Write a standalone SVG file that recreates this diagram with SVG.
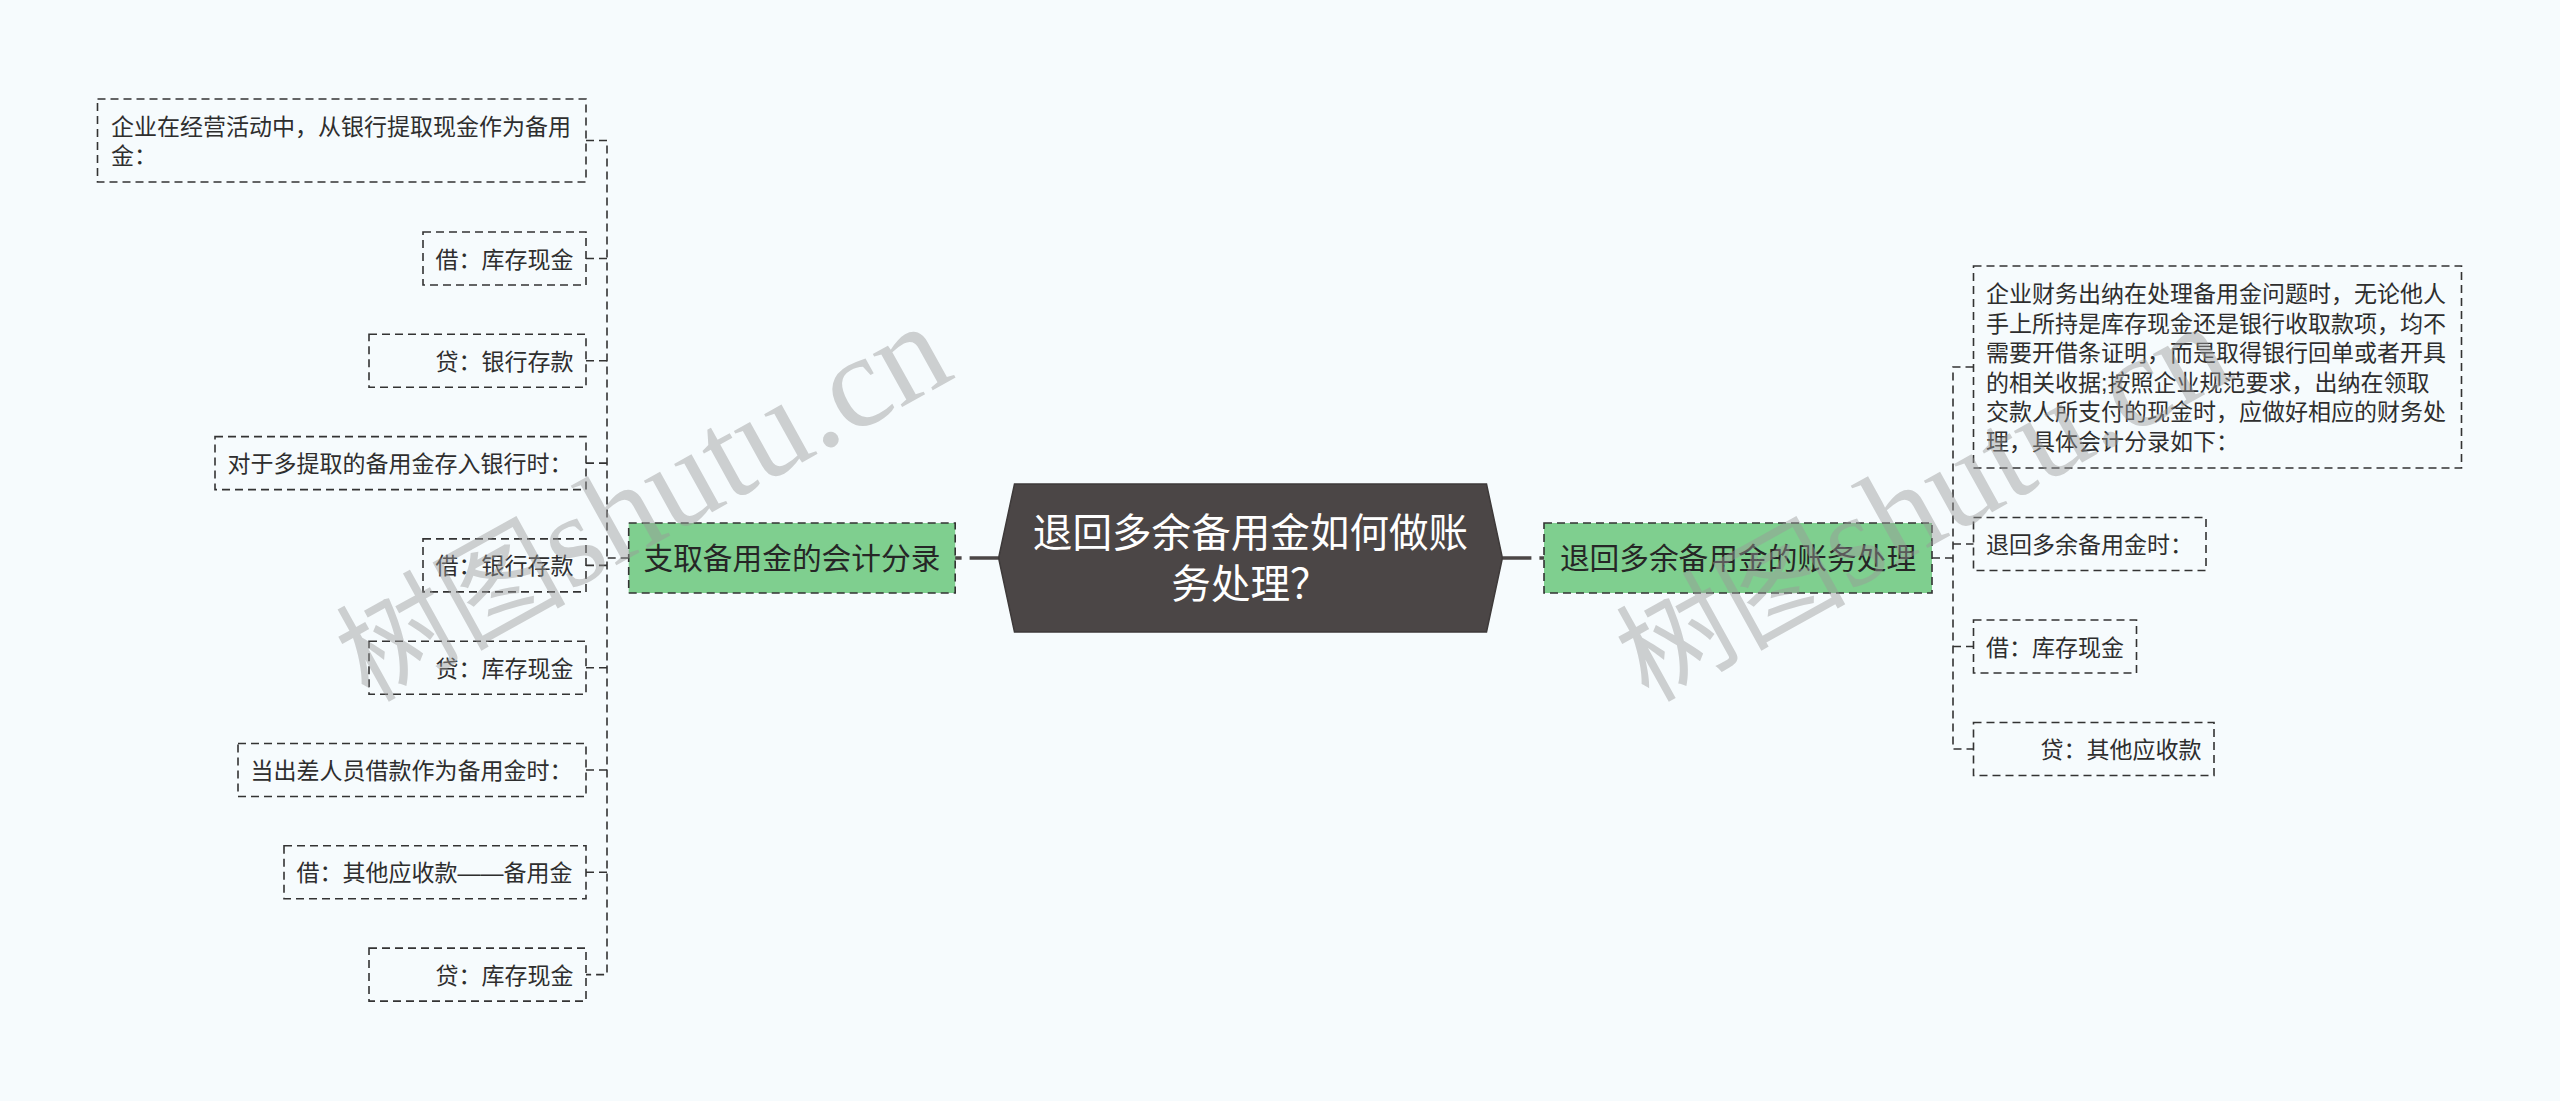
<svg xmlns="http://www.w3.org/2000/svg" width="2560" height="1101" viewBox="0 0 2560 1101">
<style>
.bg{fill:#f6fbfd}
.leaf{fill:none;stroke:#333;stroke-width:1.6;stroke-dasharray:8 5}
.leaft{font-family:"Liberation Sans","Noto Sans CJK SC",sans-serif;font-size:23px;fill:#2e2e2e}
.green{fill:#7fcf8f;stroke:#333;stroke-width:1.6;stroke-dasharray:8 5}
.greent{font-family:"Liberation Sans","Noto Sans CJK SC",sans-serif;font-size:29.7px;fill:#262626;text-anchor:middle}
.root{fill:#4b4646;stroke:#3e3a3a;stroke-width:1.5}
.roott{font-family:"Liberation Sans","Noto Sans CJK SC",sans-serif;font-size:39.6px;fill:#ffffff;text-anchor:middle}
.conn{fill:none;stroke:#333;stroke-width:1.6;stroke-dasharray:8 5}
.thick{fill:none;stroke:#4b4646;stroke-width:3.5;stroke-dasharray:29 8}
.wm{font-family:"Liberation Serif","Noto Sans CJK SC",serif;font-size:115px;fill:#9a9a9a;opacity:0.45}
.wml{font-size:132px}
.end{text-anchor:end}
</style>
<rect class="bg" x="0" y="0" width="2560" height="1101"/>

<g id="connectors">
  <path class="thick" d="M998.6 558 H955"/>
  <path class="thick" d="M1502.4 558 H1544"/>
  <path class="conn" d="M628.7 558 H607"/>
  <path class="conn" d="M586 140.5 H607 V974.6 H586"/>
  <path class="conn" d="M607 258.5 H586"/>
  <path class="conn" d="M607 360.8 H586"/>
  <path class="conn" d="M607 463.1 H586"/>
  <path class="conn" d="M607 565.4 H586"/>
  <path class="conn" d="M607 667.7 H586"/>
  <path class="conn" d="M607 770 H586"/>
  <path class="conn" d="M607 872.3 H586"/>
  <path class="conn" d="M1932 558 H1953"/>
  <path class="conn" d="M1973.5 367 H1953 V749 H1973.5"/>
  <path class="conn" d="M1953 544 H1973.5"/>
  <path class="conn" d="M1953 646.5 H1973.5"/>
</g>

<g id="root">
  <polygon class="root" points="1014.5,484 1486.5,484 1502.4,558 1486.5,632 1014.5,632 998.6,558"/>
  <text class="roott" x="1250.5" y="547">退回多余备用金如何做账</text>
  <text class="roott" x="1250.5" y="598">务处理？</text>
</g>

<g id="branch-left">
  <rect class="green" x="628.7" y="523" width="326.5" height="70"/>
  <text class="greent" x="791.9" y="569">支取备用金的会计分录</text>
</g>
<g id="branch-right">
  <rect class="green" x="1544" y="523" width="388" height="70"/>
  <text class="greent" x="1738" y="569">退回多余备用金的账务处理</text>
</g>

<g id="l1">
  <rect class="leaf" x="97.5" y="99" width="488.5" height="83"/>
  <text class="leaft" x="111" y="134.5">企业在经营活动中，从银行提取现金作为备用</text>
  <text class="leaft" x="111" y="164">金：</text>
</g>
<g id="l2">
  <rect class="leaf" x="423" y="232" width="163" height="53"/>
  <text class="leaft" x="435.5" y="267.5">借：库存现金</text>
</g>
<g id="l3">
  <rect class="leaf" x="369" y="334.3" width="217" height="53"/>
  <text class="leaft end" x="573.5" y="369.8">贷：银行存款</text>
</g>
<g id="l4">
  <rect class="leaf" x="215" y="436.6" width="371" height="53"/>
  <text class="leaft" x="227.5" y="472.1">对于多提取的备用金存入银行时：</text>
</g>
<g id="l5">
  <rect class="leaf" x="423" y="538.9" width="163" height="53"/>
  <text class="leaft" x="435.5" y="574.4">借：银行存款</text>
</g>
<g id="l6">
  <rect class="leaf" x="369" y="641.2" width="217" height="53"/>
  <text class="leaft end" x="573.5" y="676.7">贷：库存现金</text>
</g>
<g id="l7">
  <rect class="leaf" x="238" y="743.5" width="348" height="53"/>
  <text class="leaft" x="250.5" y="779">当出差人员借款作为备用金时：</text>
</g>
<g id="l8">
  <rect class="leaf" x="284" y="845.8" width="302" height="53"/>
  <text class="leaft" x="296.5" y="881.3">借：其他应收款——备用金</text>
</g>
<g id="l9">
  <rect class="leaf" x="369" y="948.1" width="217" height="53"/>
  <text class="leaft end" x="573.5" y="983.6">贷：库存现金</text>
</g>

<g id="r1">
  <rect class="leaf" x="1973.5" y="266" width="488" height="202"/>
  <text class="leaft" x="1986" y="302">企业财务出纳在处理备用金问题时，无论他人</text>
  <text class="leaft" x="1986" y="331.5">手上所持是库存现金还是银行收取款项，均不</text>
  <text class="leaft" x="1986" y="361">需要开借条证明，而是取得银行回单或者开具</text>
  <text class="leaft" x="1986" y="390.5">的相关收据;按照企业规范要求，出纳在领取</text>
  <text class="leaft" x="1986" y="420">交款人所支付的现金时，应做好相应的财务处</text>
  <text class="leaft" x="1986" y="449.5">理，具体会计分录如下：</text>
</g>
<g id="r2">
  <rect class="leaf" x="1973.5" y="517.5" width="232.5" height="53"/>
  <text class="leaft" x="1986" y="553">退回多余备用金时：</text>
</g>
<g id="r3">
  <rect class="leaf" x="1973.5" y="620" width="163" height="53"/>
  <text class="leaft" x="1986" y="655.5">借：库存现金</text>
</g>
<g id="r4">
  <rect class="leaf" x="1973.5" y="722.5" width="240.5" height="53"/>
  <text class="leaft end" x="2201.5" y="758">贷：其他应收款</text>
</g>

<g id="watermark">
  <text class="wm" transform="translate(368 703) rotate(-29)">树图<tspan class="wml">shutu.cn</tspan></text>
  <text class="wm" transform="translate(1648 703) rotate(-29)">树图<tspan class="wml">shutu.cn</tspan></text>
</g>
</svg>
